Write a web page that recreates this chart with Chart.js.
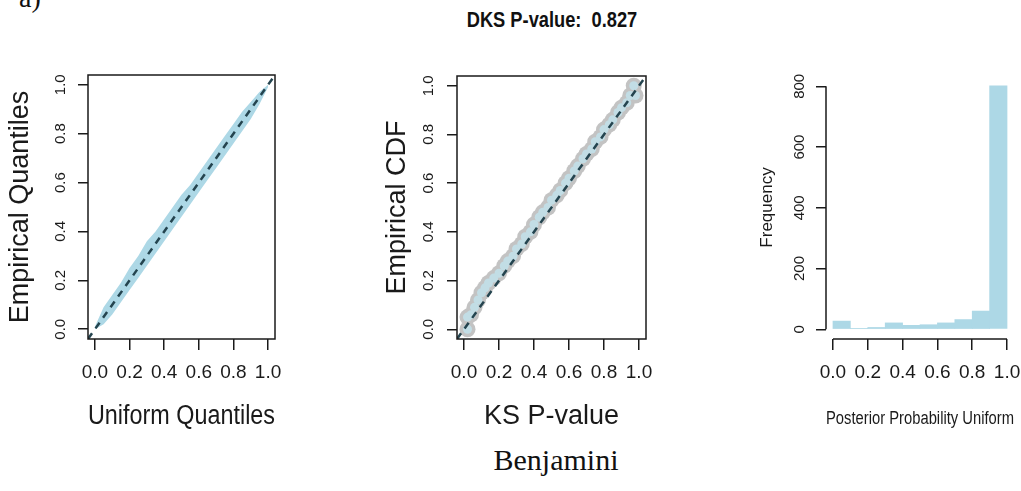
<!DOCTYPE html>
<html>
<head>
<meta charset="utf-8">
<script src="https://cdn.jsdelivr.net/npm/chart.js@4"></script>
<style>
  body { margin: 0; background: #fff; width: 1021px; height: 491px; position: relative; overflow: hidden; }
  canvas { position: absolute; }
  .txt { position: absolute; white-space: nowrap; color: #111; transform: translate(-50%, -50%); line-height: 1; }
</style>
</head>
<body>
<div class="txt" style="left:30px; top:-2px; font: 28px 'Liberation Serif', serif;">a)</div>
<div class="txt" style="left:552px; top:20px; font: bold 22px 'Liberation Sans', sans-serif; transform: translate(-50%, -50%) scaleX(0.83);">DKS P-value:&nbsp; 0.827</div>
<div class="txt" style="left:556px; top:460px; font: 30px 'Liberation Serif', serif;">Benjamini</div>

<canvas id="qq" width="290" height="380" style="left:0; top:60px"></canvas>
<canvas id="ks" width="290" height="380" style="left:370px; top:60px"></canvas>
<canvas id="hist" width="281" height="380" style="left:740px; top:60px"></canvas>

<script>
// shared tick values / labels
const unitTicks = [0, 0.2, 0.4, 0.6, 0.8, 1.0];
const unitLabels = ['0.0', '0.2', '0.4', '0.6', '0.8', '1.0'];
const freqTicks = [0, 200, 400, 600, 800];
const freqLabels = ['0', '200', '400', '600', '800'];

// panel 1: quantile band (uniform vs empirical)
const qX     = [0, 0.05, 0.10, 0.15, 0.20, 0.25, 0.30, 0.35, 0.40, 0.45, 0.50, 0.55, 0.60, 0.65, 0.70, 0.75, 0.80, 0.85, 0.90, 0.95, 1.00];
const qUpper = [0.01, 0.09, 0.14, 0.19, 0.25, 0.30, 0.36, 0.40, 0.45, 0.50, 0.55, 0.59, 0.64, 0.69, 0.74, 0.79, 0.84, 0.89, 0.93, 0.97, 1.00];
const qLower = [0, 0.02, 0.06, 0.11, 0.16, 0.21, 0.26, 0.31, 0.36, 0.41, 0.46, 0.51, 0.56, 0.61, 0.66, 0.71, 0.76, 0.81, 0.86, 0.92, 0.99];

// panel 2: KS p-values vs empirical CDF
const ksX = [0.02, 0.02, 0.04, 0.06, 0.08, 0.10, 0.12, 0.14, 0.17, 0.20, 0.23, 0.25, 0.28, 0.30, 0.33, 0.35, 0.38, 0.40, 0.43, 0.45, 0.48, 0.50, 0.53, 0.55, 0.58, 0.60, 0.63, 0.65, 0.68, 0.70, 0.73, 0.75, 0.78, 0.80, 0.83, 0.85, 0.88, 0.90, 0.93, 0.95, 0.97, 0.98];
const ksY = [0.00, 0.05, 0.06, 0.09, 0.12, 0.15, 0.17, 0.19, 0.21, 0.23, 0.26, 0.28, 0.30, 0.33, 0.35, 0.38, 0.40, 0.43, 0.46, 0.48, 0.50, 0.53, 0.55, 0.57, 0.60, 0.62, 0.65, 0.67, 0.70, 0.72, 0.74, 0.77, 0.79, 0.82, 0.84, 0.86, 0.89, 0.91, 0.93, 0.96, 1.00, 0.96];

// reference diagonal
const refX = [-0.04, 1.04];
const refY = [-0.04, 1.04];

// panel 3: histogram of posterior probability uniform
const binMids = [0.05, 0.15, 0.25, 0.35, 0.45, 0.55, 0.65, 0.75, 0.85, 0.95];
const binCounts = [27, 3, 6, 21, 13, 15, 21, 32, 60, 802];

const narrow = "'Liberation Sans Narrow', 'Liberation Sans', Arial, sans-serif";
const regular = "'Liberation Sans', Arial, sans-serif";
const ink = '#1a1a1a';
const lightBlue = '#add8e6';

function pts(xs, ys) { return xs.map((x, i) => ({ x: x, y: ys[i] })); }

function xScale(title, titleSize, titlePad) {
  return {
    type: 'linear', min: -0.04, max: 1.04, offset: false,
    afterBuildTicks: s => { s.ticks = unitTicks.map(v => ({ value: v })); },
    afterFit: s => { s.height = 101; s.paddingLeft = 0; s.paddingRight = 0; },
    grid: { offset: false, drawOnChartArea: false, drawTicks: true, tickLength: 11, color: ink, lineWidth: 1.5 },
    border: { display: false },
    ticks: { padding: 11, color: ink, maxRotation: 0, autoSkip: false, font: { family: narrow, size: 19 },
             callback: (v, i) => unitLabels[i] },
    title: { display: true, text: title, color: ink, font: { family: narrow, size: titleSize }, padding: { top: 0, bottom: titlePad } }
  };
}

function yScale(title, titleSize, titlePad, min, max, ticks, width) {
  return {
    type: 'linear', min: min, max: max,
    afterBuildTicks: s => { s.ticks = ticks.map(v => ({ value: v })); },
    afterFit: s => { s.width = width; s.paddingTop = 0; s.paddingBottom = 0; },
    grid: { drawOnChartArea: false, drawTicks: true, tickLength: 10, color: ink, lineWidth: 1.5 },
    border: { display: false },
    ticks: { display: false },
    title: { display: true, text: title, color: ink, font: { family: regular, size: titleSize }, padding: { top: titlePad, bottom: 0 } }
  };
}

// y tick labels in R are turned 90 degrees
const rotatedYLabels = {
  id: 'rotatedYLabels',
  afterDraw(chart, args, opts) {
    const s = chart.scales.y;
    const ctx = chart.ctx;
    ctx.save();
    ctx.fillStyle = ink;
    ctx.font = '15px ' + regular;
    ctx.textAlign = 'center';
    ctx.textBaseline = 'middle';
    s.ticks.forEach((t, i) => {
      ctx.save();
      ctx.translate(chart.chartArea.left - opts.offset, s.getPixelForValue(t.value));
      ctx.rotate(-Math.PI / 2);
      ctx.fillText(opts.labels[i], 0, 0);
      ctx.restore();
    });
    ctx.restore();
  }
};

// box round the plot, or R style axis lines for the histogram
const frame = {
  id: 'frame',
  afterDraw(chart, args, opts) {
    const ctx = chart.ctx;
    const a = chart.chartArea;
    ctx.save();
    ctx.strokeStyle = ink;
    ctx.lineWidth = 1.5;
    if (opts.mode === 'box') {
      ctx.strokeRect(a.left, a.top, a.right - a.left, a.bottom - a.top);
    } else {
      const x = chart.scales.x, y = chart.scales.y;
      ctx.beginPath();
      ctx.moveTo(a.left, y.getPixelForValue(freqTicks[0]));
      ctx.lineTo(a.left, y.getPixelForValue(freqTicks[freqTicks.length - 1]));
      ctx.moveTo(x.getPixelForValue(unitTicks[0]), a.bottom);
      ctx.lineTo(x.getPixelForValue(unitTicks[unitTicks.length - 1]), a.bottom);
      ctx.stroke();
    }
    ctx.restore();
  }
};

// lower order is drawn on top
function dashedLine() {
  return {
    data: pts(refX, refY), showLine: true, borderColor: '#24444f', borderWidth: 2.5,
    borderDash: [7, 6], pointRadius: 0, fill: false, order: 0
  };
}

const common = {
  responsive: false,
  animation: false,
  events: [],
  plugins: { legend: { display: false }, tooltip: { enabled: false } }
};

new Chart(document.getElementById('qq'), {
  type: 'line',
  data: {
    datasets: [
      { data: pts(qX, qUpper), borderWidth: 0, pointRadius: 0, fill: false, order: 2 },
      { data: pts(qX, qLower), borderWidth: 0, pointRadius: 0, fill: '-1', backgroundColor: lightBlue, order: 1 },
      dashedLine()
    ]
  },
  options: Object.assign({}, common, {
    layout: { padding: { top: 15, right: 15, left: 0, bottom: 0 } },
    scales: {
      x: xScale('Uniform Quantiles', 27, 7),
      y: yScale('Empirical Quantiles', 27, 4, -0.04, 1.04, unitTicks, 88)
    },
    plugins: Object.assign({}, common.plugins, {
      rotatedYLabels: { offset: 27, labels: unitLabels },
      frame: { mode: 'box' }
    })
  }),
  plugins: [rotatedYLabels, frame]
});

new Chart(document.getElementById('ks'), {
  type: 'line',
  data: {
    datasets: [
      { data: pts(ksX, ksY), showLine: false, pointRadius: 8, pointBorderWidth: 0, pointBackgroundColor: '#c3c3c3', order: 2 },
      { data: pts(ksX, ksY), showLine: false, pointRadius: 4.5, pointBorderWidth: 0, pointBackgroundColor: '#c2dde5', order: 1 },
      dashedLine()
    ]
  },
  options: Object.assign({}, common, {
    layout: { padding: { top: 16, right: 14, left: 0, bottom: 0 } },
    scales: {
      x: xScale('KS P-value', 27, 7),
      y: yScale('Empirical CDF', 27, 11, -0.04, 1.04, unitTicks, 87)
    },
    plugins: Object.assign({}, common.plugins, {
      rotatedYLabels: { offset: 28, labels: unitLabels },
      frame: { mode: 'box' }
    })
  }),
  plugins: [rotatedYLabels, frame]
});

new Chart(document.getElementById('hist'), {
  type: 'bar',
  data: {
    datasets: [{
      data: pts(binMids, binCounts), backgroundColor: lightBlue, borderWidth: 0,
      barPercentage: 1, categoryPercentage: 1
    }]
  },
  options: Object.assign({}, common, {
    layout: { padding: { top: 16, right: 7, left: 0, bottom: 0 } },
    scales: {
      x: xScale('Posterior Probability Uniform', 18, 10),
      y: yScale('Frequency', 17, 17, -32, 834, freqTicks, 86)
    },
    plugins: Object.assign({}, common.plugins, {
      rotatedYLabels: { offset: 26, labels: freqLabels },
      frame: { mode: 'axes' }
    })
  }),
  plugins: [rotatedYLabels, frame]
});
</script>
</body>
</html>
